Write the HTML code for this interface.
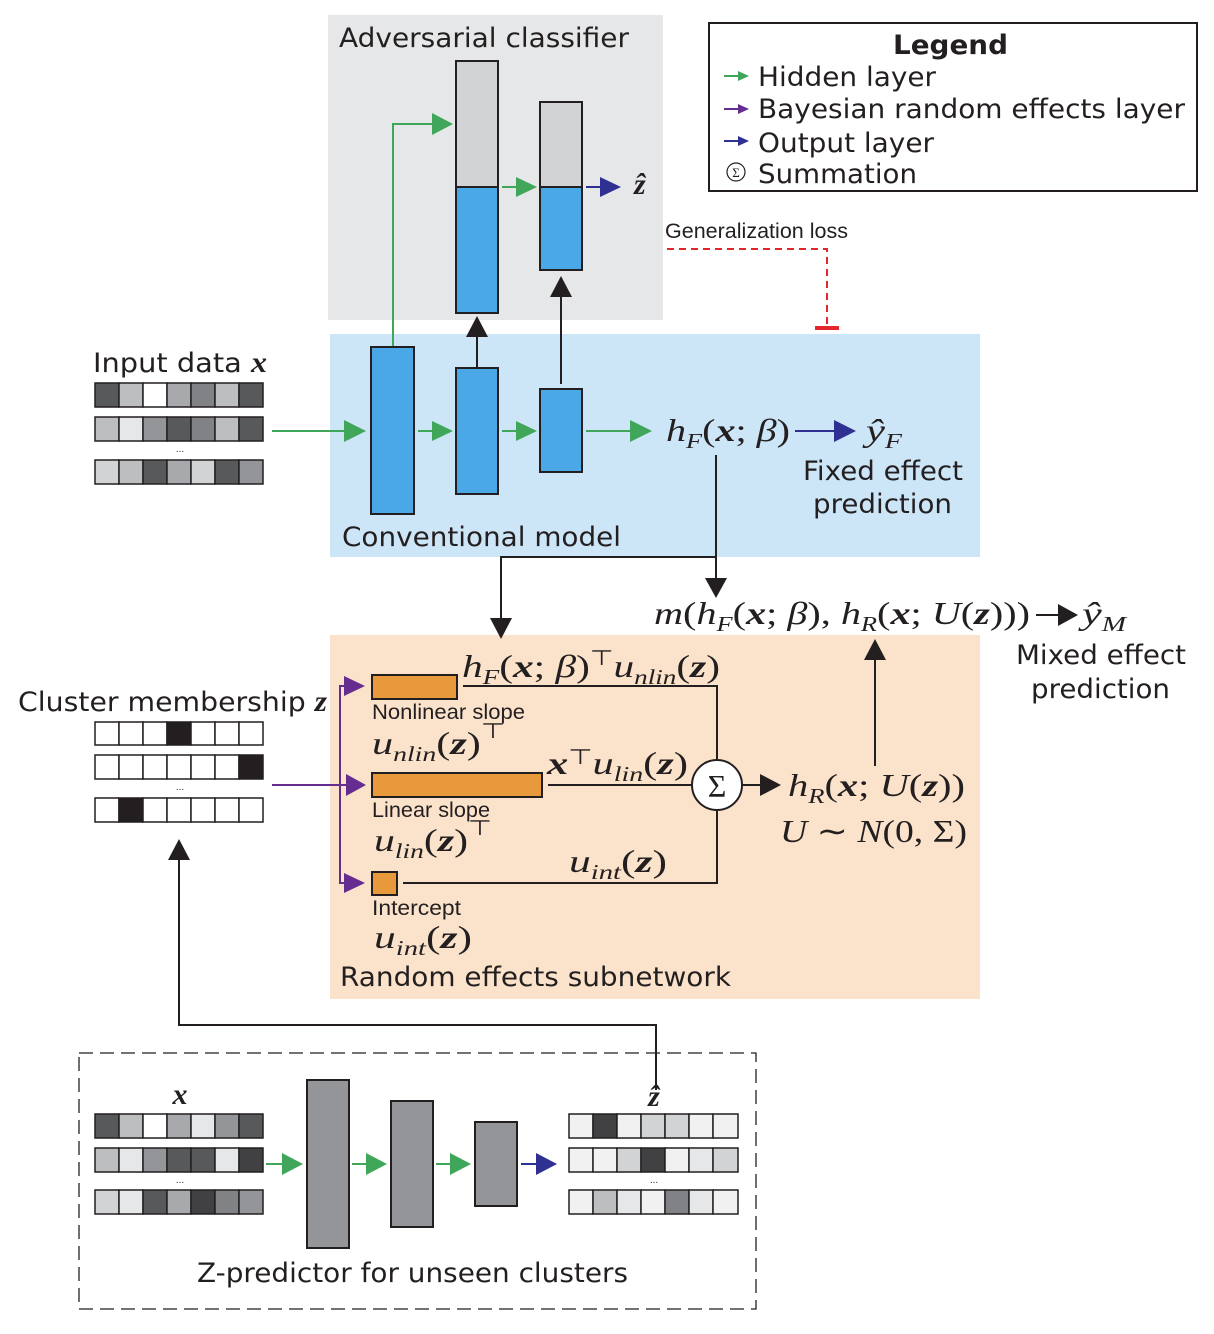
<!DOCTYPE html>
<html><head><meta charset="utf-8"><style>
html,body{margin:0;padding:0;background:#fff;}
svg{display:block;}
.d{font-family:"DejaVu Sans",sans-serif;fill:#231f20;}
.s{font-family:"Liberation Sans",sans-serif;fill:#231f20;}
.m{font-family:"Liberation Serif",serif;font-style:italic;fill:#231f20;}
.b{font-weight:bold;}
</style></head><body>
<svg width="1214" height="1334" viewBox="0 0 1214 1334" xmlns="http://www.w3.org/2000/svg">

<!-- backgrounds -->
<rect x="328" y="15" width="335" height="305" fill="#e6e7e8"/>
<rect x="330" y="334" width="650" height="223" fill="#cde6f7"/>
<rect x="330" y="635" width="650" height="364" fill="#fbe3cb"/>
<rect x="709" y="23" width="488" height="168" fill="#fff" stroke="#231f20" stroke-width="2"/>
<rect x="79" y="1053" width="677" height="256" fill="none" stroke="#231f20" stroke-width="1.3" stroke-dasharray="14,7"/>

<!-- legend -->
<text class="d b" x="893" y="54" font-size="27" textLength="115" lengthAdjust="spacingAndGlyphs">Legend</text>
<line x1="724" y1="76" x2="740" y2="76" stroke="#3fa65a" stroke-width="2"/><path d="M738,71L749,76L738,81z" fill="#3fa65a"/>
<text class="d" x="758" y="86" font-size="27" textLength="178" lengthAdjust="spacingAndGlyphs">Hidden layer</text>
<line x1="724" y1="109" x2="740" y2="109" stroke="#662d91" stroke-width="2"/><path d="M738,104L749,109L738,114z" fill="#662d91"/>
<text class="d" x="758" y="118" font-size="27" textLength="427" lengthAdjust="spacingAndGlyphs">Bayesian random effects layer</text>
<line x1="724" y1="141" x2="740" y2="141" stroke="#2e3192" stroke-width="2"/><path d="M738,136L749,141L738,146z" fill="#2e3192"/>
<text class="d" x="758" y="152" font-size="27" textLength="176" lengthAdjust="spacingAndGlyphs">Output layer</text>
<circle cx="736" cy="172" r="9" fill="none" stroke="#231f20" stroke-width="1.2"/>
<text x="736" y="177" font-size="13" text-anchor="middle" font-family="Liberation Serif,serif" fill="#231f20">Σ</text>
<text class="d" x="758" y="183" font-size="27" textLength="159" lengthAdjust="spacingAndGlyphs">Summation</text>

<!-- adversarial -->
<text class="d" x="339" y="47" font-size="27" textLength="290" lengthAdjust="spacingAndGlyphs">Adversarial classifier</text>
<rect x="456" y="61" width="42" height="126" fill="#d1d3d4" stroke="#231f20" stroke-width="2"/>
<rect x="456" y="187" width="42" height="126" fill="#4aa8e6" stroke="#231f20" stroke-width="2"/>
<rect x="540" y="102" width="42" height="85" fill="#d1d3d4" stroke="#231f20" stroke-width="2"/>
<rect x="540" y="187" width="42" height="83" fill="#4aa8e6" stroke="#231f20" stroke-width="2"/>
<polyline points="393,347 393,124 440,124" fill="none" stroke="#3fa65a" stroke-width="2"/>
<path d="M432,113L453,124L432,135z" fill="#3fa65a"/>
<line x1="502" y1="187" x2="520" y2="187" stroke="#3fa65a" stroke-width="2"/>
<path d="M516,177L537,187L516,197z" fill="#3fa65a"/>
<line x1="586" y1="187" x2="604" y2="187" stroke="#2e3192" stroke-width="2"/>
<path d="M600,177L621,187L600,197z" fill="#2e3192"/>
<text class="m b" x="634" y="194" font-size="30">ẑ</text>
<line x1="477" y1="367" x2="477" y2="332" stroke="#231f20" stroke-width="2"/>
<path d="M466,337L477,316L488,337z" fill="#231f20"/>
<line x1="561" y1="384" x2="561" y2="292" stroke="#231f20" stroke-width="2"/>
<path d="M550,297L561,276L572,297z" fill="#231f20"/>

<!-- generalization loss -->
<text class="s" x="665" y="238" font-size="21" textLength="183" lengthAdjust="spacingAndGlyphs">Generalization loss</text>
<polyline points="667,249 827,249 827,327" fill="none" stroke="#e3262b" stroke-width="2" stroke-dasharray="7,5"/>
<line x1="815" y1="328" x2="839" y2="328" stroke="#e3262b" stroke-width="4"/>

<!-- input data -->
<text class="d" x="93" y="372" font-size="27" textLength="174" lengthAdjust="spacingAndGlyphs">Input data <tspan class="m b" font-size="30">x</tspan></text>
<g stroke="#231f20" stroke-width="1.5">
<rect x="95" y="383" width="24" height="24" fill="#58595b"/><rect x="119" y="383" width="24" height="24" fill="#bcbec0"/><rect x="143" y="383" width="24" height="24" fill="#fff"/><rect x="167" y="383" width="24" height="24" fill="#a7a9ac"/><rect x="191" y="383" width="24" height="24" fill="#808285"/><rect x="215" y="383" width="24" height="24" fill="#bcbec0"/><rect x="239" y="383" width="24" height="24" fill="#58595b"/>
<rect x="95" y="417" width="24" height="24" fill="#bcbec0"/><rect x="119" y="417" width="24" height="24" fill="#e6e7e8"/><rect x="143" y="417" width="24" height="24" fill="#939598"/><rect x="167" y="417" width="24" height="24" fill="#58595b"/><rect x="191" y="417" width="24" height="24" fill="#808285"/><rect x="215" y="417" width="24" height="24" fill="#bcbec0"/><rect x="239" y="417" width="24" height="24" fill="#58595b"/>
<rect x="95" y="460" width="24" height="24" fill="#d1d3d4"/><rect x="119" y="460" width="24" height="24" fill="#bcbec0"/><rect x="143" y="460" width="24" height="24" fill="#58595b"/><rect x="167" y="460" width="24" height="24" fill="#a7a9ac"/><rect x="191" y="460" width="24" height="24" fill="#d1d3d4"/><rect x="215" y="460" width="24" height="24" fill="#58595b"/><rect x="239" y="460" width="24" height="24" fill="#939598"/>
</g>
<text class="s" x="180" y="452" font-size="10" text-anchor="middle">...</text>

<!-- conventional model -->
<line x1="272" y1="431" x2="348" y2="431" stroke="#3fa65a" stroke-width="2"/>
<path d="M344,420L366,431L344,442z" fill="#3fa65a"/>
<rect x="371" y="347" width="43" height="167" fill="#4aa8e6" stroke="#231f20" stroke-width="2"/>
<rect x="456" y="368" width="42" height="126" fill="#4aa8e6" stroke="#231f20" stroke-width="2"/>
<rect x="540" y="389" width="42" height="83" fill="#4aa8e6" stroke="#231f20" stroke-width="2"/>
<line x1="418" y1="431" x2="436" y2="431" stroke="#3fa65a" stroke-width="2"/>
<path d="M432,421L453,431L432,441z" fill="#3fa65a"/>
<line x1="502" y1="431" x2="520" y2="431" stroke="#3fa65a" stroke-width="2"/>
<path d="M516,421L537,431L516,441z" fill="#3fa65a"/>
<line x1="586" y1="431" x2="634" y2="431" stroke="#3fa65a" stroke-width="2"/>
<path d="M630,420L652,431L630,442z" fill="#3fa65a"/>
<text class="m" x="666" y="441" font-size="32" textLength="124" lengthAdjust="spacingAndGlyphs">h<tspan font-size="21" dy="7">F</tspan><tspan dy="-7" font-style="normal">(</tspan><tspan class="b">x</tspan><tspan font-style="normal">;</tspan> β<tspan font-style="normal">)</tspan></text>
<line x1="795" y1="431" x2="838" y2="431" stroke="#2e3192" stroke-width="2"/>
<path d="M834,420L856,431L834,442z" fill="#2e3192"/>
<text class="m" x="866" y="441" font-size="32" textLength="36" lengthAdjust="spacingAndGlyphs">ŷ<tspan font-size="21" dy="7">F</tspan></text>
<text class="d" x="803" y="480" font-size="27" textLength="160" lengthAdjust="spacingAndGlyphs">Fixed effect</text>
<text class="d" x="813" y="513" font-size="27" textLength="139" lengthAdjust="spacingAndGlyphs">prediction</text>
<text class="d" x="342" y="546" font-size="27" textLength="279" lengthAdjust="spacingAndGlyphs">Conventional model</text>

<!-- connectors to mixed -->
<line x1="716" y1="455" x2="716" y2="582" stroke="#231f20" stroke-width="2"/>
<path d="M705,578L716,598L727,578z" fill="#231f20"/>
<polyline points="716,557 501,557 501,622" fill="none" stroke="#231f20" stroke-width="2"/>
<path d="M490,618L501,639L512,618z" fill="#231f20"/>
<text class="m" x="654" y="624" font-size="32" textLength="376" lengthAdjust="spacingAndGlyphs">m<tspan font-style="normal">(</tspan>h<tspan font-size="21" dy="7">F</tspan><tspan dy="-7" font-style="normal">(</tspan><tspan class="b">x</tspan><tspan font-style="normal">;</tspan> β<tspan font-style="normal">),</tspan> h<tspan font-size="21" dy="7">R</tspan><tspan dy="-7" font-style="normal">(</tspan><tspan class="b">x</tspan><tspan font-style="normal">;</tspan> U<tspan font-style="normal">(</tspan><tspan class="b">z</tspan><tspan font-style="normal">)))</tspan></text>
<line x1="1036" y1="615" x2="1062" y2="615" stroke="#231f20" stroke-width="2"/>
<path d="M1058,604L1078,615L1058,626z" fill="#231f20"/>
<text class="m" x="1082" y="624" font-size="32" textLength="44" lengthAdjust="spacingAndGlyphs">ŷ<tspan font-size="21" dy="7">M</tspan></text>
<text class="d" x="1016" y="664" font-size="27" textLength="170" lengthAdjust="spacingAndGlyphs">Mixed effect</text>
<text class="d" x="1031" y="698" font-size="27" textLength="139" lengthAdjust="spacingAndGlyphs">prediction</text>

<!-- cluster membership -->
<text class="d" x="18" y="711" font-size="27" textLength="309" lengthAdjust="spacingAndGlyphs">Cluster membership <tspan class="m b" font-size="30">z</tspan></text>
<g stroke="#231f20" stroke-width="1.5" fill="#fff">
<rect x="95" y="722" width="24" height="23"/><rect x="119" y="722" width="24" height="23"/><rect x="143" y="722" width="24" height="23"/><rect x="167" y="722" width="24" height="23" fill="#231f20"/><rect x="191" y="722" width="24" height="23"/><rect x="215" y="722" width="24" height="23"/><rect x="239" y="722" width="24" height="23"/>
<rect x="95" y="755" width="24" height="24"/><rect x="119" y="755" width="24" height="24"/><rect x="143" y="755" width="24" height="24"/><rect x="167" y="755" width="24" height="24"/><rect x="191" y="755" width="24" height="24"/><rect x="215" y="755" width="24" height="24"/><rect x="239" y="755" width="24" height="24" fill="#231f20"/>
<rect x="95" y="798" width="24" height="24"/><rect x="119" y="798" width="24" height="24" fill="#231f20"/><rect x="143" y="798" width="24" height="24"/><rect x="167" y="798" width="24" height="24"/><rect x="191" y="798" width="24" height="24"/><rect x="215" y="798" width="24" height="24"/><rect x="239" y="798" width="24" height="24"/>
</g>
<text class="s" x="180" y="790" font-size="10" text-anchor="middle">...</text>

<!-- purple connectors -->
<line x1="272" y1="785" x2="348" y2="785" stroke="#662d91" stroke-width="2"/>
<polyline points="348,686 340,686 340,883 348,883" fill="none" stroke="#662d91" stroke-width="2"/>
<path d="M344,676L365,686L344,696z" fill="#662d91"/>
<path d="M346,774L366,785L346,796z" fill="#662d91"/>
<path d="M344,873L365,883L344,893z" fill="#662d91"/>

<!-- random effects -->
<rect x="372" y="675" width="85" height="24" fill="#e8993c" stroke="#231f20" stroke-width="2"/>
<rect x="372" y="773" width="170" height="24" fill="#e8993c" stroke="#231f20" stroke-width="2"/>
<rect x="372" y="872" width="25" height="23" fill="#e8993c" stroke="#231f20" stroke-width="2"/>
<polyline points="463,686 717,686 717,760" fill="none" stroke="#231f20" stroke-width="2"/>
<line x1="548" y1="785" x2="692" y2="785" stroke="#231f20" stroke-width="2"/>
<polyline points="403,883 717,883 717,810" fill="none" stroke="#231f20" stroke-width="2"/>
<circle cx="717" cy="785" r="25" fill="#fff" stroke="#231f20" stroke-width="2"/>
<text x="717" y="797" font-size="32" text-anchor="middle" font-family="Liberation Serif,serif" fill="#231f20">Σ</text>
<line x1="742" y1="785" x2="764" y2="785" stroke="#231f20" stroke-width="2"/>
<path d="M760,774L781,785L760,796z" fill="#231f20"/>
<line x1="875" y1="766" x2="875" y2="656" stroke="#231f20" stroke-width="2"/>
<path d="M864,660L875,639L886,660z" fill="#231f20"/>

<text class="m" x="462" y="677" font-size="32" textLength="258" lengthAdjust="spacingAndGlyphs">h<tspan font-size="21" dy="7">F</tspan><tspan dy="-7" font-style="normal">(</tspan><tspan class="b">x</tspan><tspan font-style="normal">;</tspan> β<tspan font-style="normal">)</tspan><tspan font-style="normal" font-size="21" dy="-12">⊤</tspan><tspan dy="12">u</tspan><tspan font-size="21" dy="7">nlin</tspan><tspan dy="-7" font-style="normal">(</tspan><tspan class="b">z</tspan><tspan font-style="normal">)</tspan></text>
<text class="s" x="372" y="719" font-size="21" textLength="153" lengthAdjust="spacingAndGlyphs">Nonlinear slope</text>
<text class="m" x="372" y="754" font-size="32" textLength="133" lengthAdjust="spacingAndGlyphs">u<tspan font-size="21" dy="7">nlin</tspan><tspan dy="-7" font-style="normal">(</tspan><tspan class="b">z</tspan><tspan font-style="normal">)</tspan><tspan font-style="normal" font-size="21" dy="-16">⊤</tspan></text>
<text class="m" x="547" y="774" font-size="32" textLength="141" lengthAdjust="spacingAndGlyphs"><tspan class="b">x</tspan><tspan font-style="normal" font-size="21" dy="-10">⊤</tspan><tspan dy="10">u</tspan><tspan font-size="21" dy="7">lin</tspan><tspan dy="-7" font-style="normal">(</tspan><tspan class="b">z</tspan><tspan font-style="normal">)</tspan></text>
<text class="s" x="372" y="817" font-size="21" textLength="118" lengthAdjust="spacingAndGlyphs">Linear slope</text>
<text class="m" x="374" y="851" font-size="32" textLength="118" lengthAdjust="spacingAndGlyphs">u<tspan font-size="21" dy="7">lin</tspan><tspan dy="-7" font-style="normal">(</tspan><tspan class="b">z</tspan><tspan font-style="normal">)</tspan><tspan font-style="normal" font-size="21" dy="-16">⊤</tspan></text>
<text class="m" x="569" y="872" font-size="32" textLength="98" lengthAdjust="spacingAndGlyphs">u<tspan font-size="21" dy="7">int</tspan><tspan dy="-7" font-style="normal">(</tspan><tspan class="b">z</tspan><tspan font-style="normal">)</tspan></text>
<text class="s" x="372" y="915" font-size="21" textLength="89" lengthAdjust="spacingAndGlyphs">Intercept</text>
<text class="m" x="374" y="948" font-size="32" textLength="98" lengthAdjust="spacingAndGlyphs">u<tspan font-size="21" dy="7">int</tspan><tspan dy="-7" font-style="normal">(</tspan><tspan class="b">z</tspan><tspan font-style="normal">)</tspan></text>
<text class="m" x="788" y="796" font-size="32" textLength="177" lengthAdjust="spacingAndGlyphs">h<tspan font-size="21" dy="7">R</tspan><tspan dy="-7" font-style="normal">(</tspan><tspan class="b">x</tspan><tspan font-style="normal">;</tspan> U<tspan font-style="normal">(</tspan><tspan class="b">z</tspan><tspan font-style="normal">))</tspan></text>
<text class="m" x="780" y="842" font-size="32" textLength="187" lengthAdjust="spacingAndGlyphs">U <tspan font-style="normal">∼</tspan> N<tspan font-style="normal">(0, Σ)</tspan></text>
<text class="d" x="340" y="986" font-size="27" textLength="391" lengthAdjust="spacingAndGlyphs">Random effects subnetwork</text>

<!-- feedback arrow -->
<polyline points="656,1090 656,1025 179,1025 179,860" fill="none" stroke="#231f20" stroke-width="2"/>
<path d="M168,860L179,839L190,860z" fill="#231f20"/>

<!-- z predictor -->
<text class="m b" x="180" y="1104" font-size="30" text-anchor="middle">x</text>
<text class="m b" x="654" y="1106" font-size="30" text-anchor="middle">ẑ</text>
<g stroke="#231f20" stroke-width="1.5">
<rect x="95" y="1114" width="24" height="24" fill="#58595b"/><rect x="119" y="1114" width="24" height="24" fill="#bcbec0"/><rect x="143" y="1114" width="24" height="24" fill="#fff"/><rect x="167" y="1114" width="24" height="24" fill="#a7a9ac"/><rect x="191" y="1114" width="24" height="24" fill="#e6e7e8"/><rect x="215" y="1114" width="24" height="24" fill="#939598"/><rect x="239" y="1114" width="24" height="24" fill="#58595b"/>
<rect x="95" y="1148" width="24" height="24" fill="#bcbec0"/><rect x="119" y="1148" width="24" height="24" fill="#e6e7e8"/><rect x="143" y="1148" width="24" height="24" fill="#939598"/><rect x="167" y="1148" width="24" height="24" fill="#58595b"/><rect x="191" y="1148" width="24" height="24" fill="#58595b"/><rect x="215" y="1148" width="24" height="24" fill="#e6e7e8"/><rect x="239" y="1148" width="24" height="24" fill="#414042"/>
<rect x="95" y="1190" width="24" height="24" fill="#d1d3d4"/><rect x="119" y="1190" width="24" height="24" fill="#e6e7e8"/><rect x="143" y="1190" width="24" height="24" fill="#58595b"/><rect x="167" y="1190" width="24" height="24" fill="#a7a9ac"/><rect x="191" y="1190" width="24" height="24" fill="#414042"/><rect x="215" y="1190" width="24" height="24" fill="#808285"/><rect x="239" y="1190" width="24" height="24" fill="#939598"/>
<rect x="569" y="1114" width="24" height="24" fill="#f1f1f2"/><rect x="593" y="1114" width="24" height="24" fill="#414042"/><rect x="617" y="1114" width="24" height="24" fill="#f1f1f2"/><rect x="641" y="1114" width="24" height="24" fill="#d1d3d4"/><rect x="665" y="1114" width="24" height="24" fill="#d1d3d4"/><rect x="689" y="1114" width="24" height="24" fill="#f1f1f2"/><rect x="713" y="1114" width="25" height="24" fill="#f1f1f2"/>
<rect x="569" y="1148" width="24" height="24" fill="#f1f1f2"/><rect x="593" y="1148" width="24" height="24" fill="#f1f1f2"/><rect x="617" y="1148" width="24" height="24" fill="#d1d3d4"/><rect x="641" y="1148" width="24" height="24" fill="#414042"/><rect x="665" y="1148" width="24" height="24" fill="#f1f1f2"/><rect x="689" y="1148" width="24" height="24" fill="#e6e7e8"/><rect x="713" y="1148" width="25" height="24" fill="#d1d3d4"/>
<rect x="569" y="1190" width="24" height="24" fill="#f1f1f2"/><rect x="593" y="1190" width="24" height="24" fill="#bcbec0"/><rect x="617" y="1190" width="24" height="24" fill="#e6e7e8"/><rect x="641" y="1190" width="24" height="24" fill="#f1f1f2"/><rect x="665" y="1190" width="24" height="24" fill="#808285"/><rect x="689" y="1190" width="24" height="24" fill="#e6e7e8"/><rect x="713" y="1190" width="25" height="24" fill="#f1f1f2"/>
</g>
<text class="s" x="180" y="1183" font-size="10" text-anchor="middle">...</text>
<text class="s" x="654" y="1183" font-size="10" text-anchor="middle">...</text>
<rect x="307" y="1080" width="42" height="168" fill="#939598" stroke="#231f20" stroke-width="2"/>
<rect x="391" y="1101" width="42" height="126" fill="#939598" stroke="#231f20" stroke-width="2"/>
<rect x="475" y="1122" width="42" height="84" fill="#939598" stroke="#231f20" stroke-width="2"/>
<line x1="266" y1="1164" x2="286" y2="1164" stroke="#3fa65a" stroke-width="2"/>
<path d="M282,1153L303,1164L282,1175z" fill="#3fa65a"/>
<line x1="352" y1="1164" x2="370" y2="1164" stroke="#3fa65a" stroke-width="2"/>
<path d="M366,1153L387,1164L366,1175z" fill="#3fa65a"/>
<line x1="436" y1="1164" x2="454" y2="1164" stroke="#3fa65a" stroke-width="2"/>
<path d="M450,1153L471,1164L450,1175z" fill="#3fa65a"/>
<line x1="521" y1="1164" x2="540" y2="1164" stroke="#2e3192" stroke-width="2"/>
<path d="M536,1153L557,1164L536,1175z" fill="#2e3192"/>
<text class="d" x="197" y="1282" font-size="27" textLength="431" lengthAdjust="spacingAndGlyphs">Z-predictor for unseen clusters</text>
</svg>
</body></html>
